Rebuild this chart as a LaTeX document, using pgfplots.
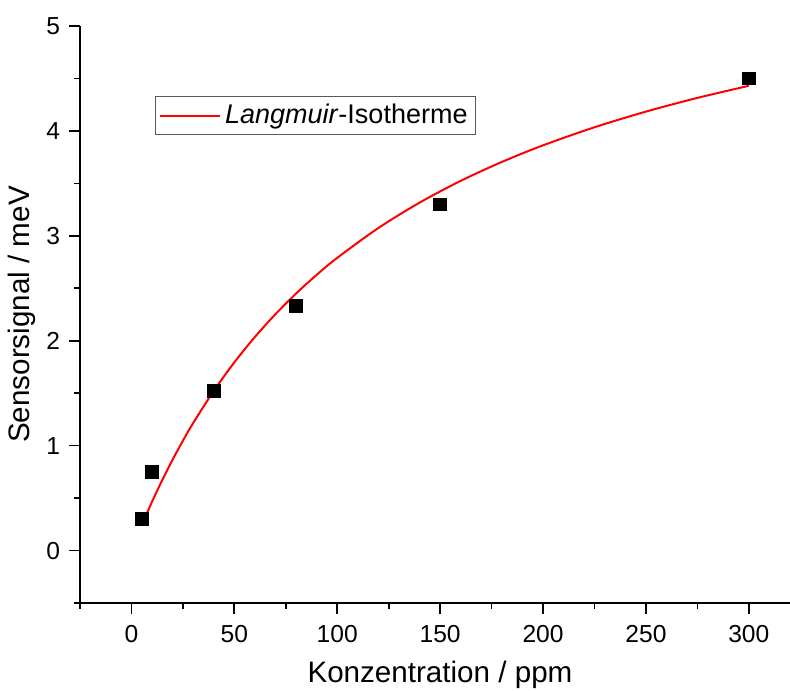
\documentclass[border=0pt]{standalone}
\usepackage{pgfplots}
\pgfplotsset{compat=1.18}
\usepackage{fontspec}
\setmainfont{Liberation Sans}
\begin{document}
\begin{tikzpicture}
\begin{axis}[
  scale only axis,
  width=355bp, height=288.5bp,
  xmin=-25, xmax=320, ymin=-0.5, ymax=5,
  axis lines=left,
  axis line style={-, line width=0.85pt},
  every tick/.style={black, line width=0.85pt},
  major tick length=5.5bp,
  tick align=outside,
  xtick={0,50,...,300},
  ytick={0,1,...,5},
  minor xtick={},
  minor ytick={},
  extra x ticks={-25,25,75,125,175,225,275},
  extra y ticks={-0.5,0.5,1.5,2.5,3.5,4.5},
  extra x tick labels={},
  extra y tick labels={},
  extra tick style={major tick length=2.8bp, tick align=outside},
  /pgf/number format/assume math mode=true,
  tick label style={font=\fontsize{12.3bp}{14bp}\selectfont},
  xticklabel style={yshift=-2bp},
  yticklabel style={xshift=-1bp},
  xlabel={Konzentration / ppm},
  ylabel={Sensorsignal / meV},
  every axis x label/.style={at={(axis description cs:0.507,0)}, yshift=-36bp, anchor=center, font=\fontsize{14.8bp}{17bp}\selectfont},
  every axis y label/.style={at={(axis description cs:0,0.5)}, xshift=-29bp, rotate=90, anchor=center, font=\fontsize{14.8bp}{17bp}\selectfont},
  legend style={at={(0.105,0.879)}, anchor=north west, draw=gray!70!black, line width=0.5pt,
    font=\fontsize{13.5bp}{15bp}\selectfont, inner xsep=2bp, inner ysep=2bp},
  legend cell align=left,
  legend image code/.code={\draw[#1] (0bp,0bp) -- (30bp,0bp);},
  clip=false,
]
\addplot[red, line width=1pt, smooth] coordinates {
(5,0.2416) (10,0.4652) (15,0.6729) (20,0.8662) (25,1.0467) (30,1.2155)
(40,1.5223) (50,1.7940) (60,2.0363) (70,2.2538) (80,2.4501) (90,2.6281)
(100,2.7902) (120,3.0747) (140,3.3163) (160,3.5239) (180,3.7043) (200,3.8625)
(225,4.0348) (250,4.1841) (275,4.3147) (300,4.4300)
};
\addlegendentry{\textit{Langmuir}-Isotherme}
\addplot[only marks, mark=square*, mark size=3.2bp, black, forget plot] coordinates {
(5,0.30) (10,0.75) (40,1.52) (80,2.33) (150,3.30) (300,4.50)
};
\end{axis}
\pgfresetboundingbox
\useasboundingbox (-40bp,-44bp) rectangle (355bp,301.5bp);
\end{tikzpicture}
\end{document}
